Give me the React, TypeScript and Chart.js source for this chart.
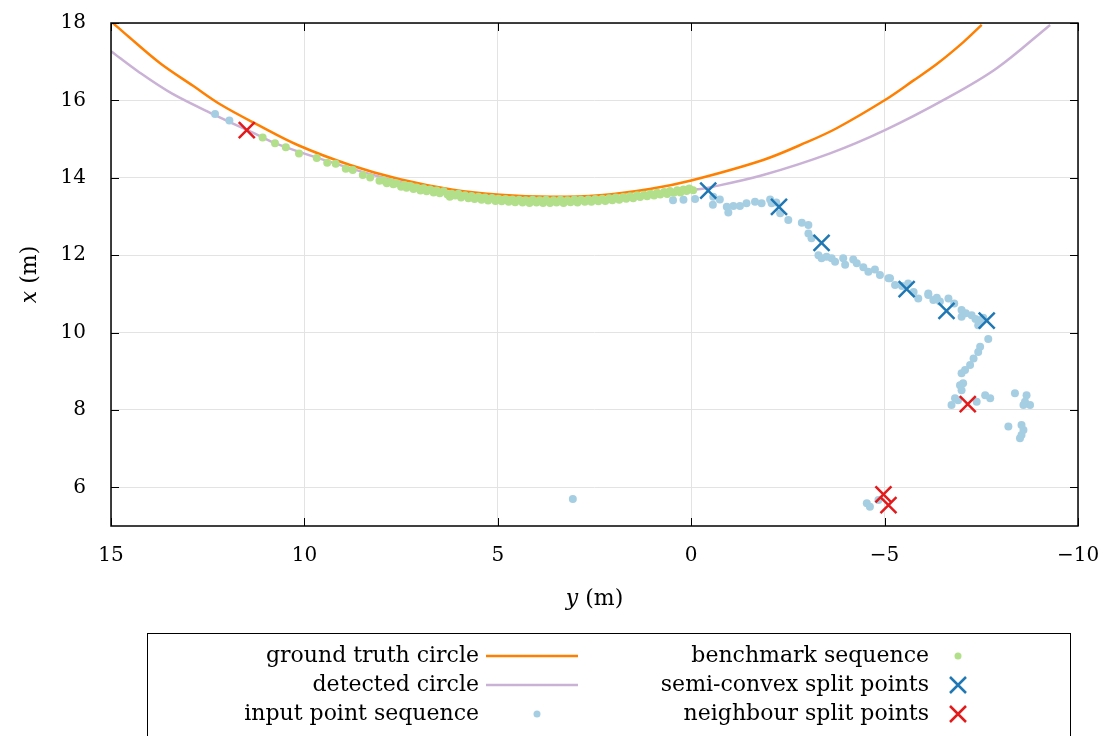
import React, { useEffect, useRef } from 'react';
import { Chart, registerables } from 'chart.js';

Chart.register(...registerables);

// Each pair is [y (m), x (m)]: chart horizontal axis is y (reversed), vertical axis is x.
const groundTruthCircle: [number, number][] = [
  [14.95, 18.0], [14.55, 17.65], [13.73, 16.96], [12.87, 16.37], [12.18, 15.9],
  [11.19, 15.36], [10.16, 14.84], [8.82, 14.33], [7.53, 13.96], [6.16, 13.69],
  [4.94, 13.56], [3.65, 13.51], [2.36, 13.55], [1.07, 13.71], [0.0, 13.93],
  [-1.86, 14.46], [-2.99, 14.92], [-3.76, 15.28], [-5.01, 16.01], [-5.74, 16.51],
  [-6.35, 16.94], [-7.03, 17.5], [-7.51, 17.95],
];

const detectedCircle: [number, number][] = [
  [15.0, 17.27], [14.29, 16.74], [13.43, 16.18], [12.31, 15.62], [11.2, 15.1],
  [10.8, 14.91], [9.68, 14.52], [8.22, 14.07], [7.0, 13.77], [6.0, 13.6],
  [5.0, 13.49], [4.0, 13.43], [3.0, 13.42], [2.0, 13.46], [1.0, 13.55],
  [0.0, 13.68], [-0.57, 13.77], [-1.86, 14.07], [-3.59, 14.63], [-5.01, 15.23],
  [-6.6, 16.05], [-7.9, 16.83], [-9.28, 17.95],
];

const inputPoints: [number, number][] = [
  [12.31, 15.65], [11.94, 15.48],
  [0.47, 13.42], [0.2, 13.43], [-0.1, 13.45], [-0.56, 13.3], [-0.57, 13.51], [-0.74, 13.44],
  [-0.92, 13.25], [-0.96, 13.1], [-1.09, 13.27], [-1.26, 13.27], [-1.43, 13.34], [-1.65, 13.38],
  [-1.82, 13.34], [-2.04, 13.44], [-2.08, 13.34], [-2.2, 13.36], [-2.3, 13.08], [-2.51, 12.91],
  [-2.86, 12.84], [-3.03, 12.78], [-3.03, 12.56], [-3.11, 12.44], [-3.29, 12.0], [-3.37, 11.92],
  [-3.5, 11.96], [-3.63, 11.92], [-3.72, 11.83], [-3.93, 11.92], [-3.98, 11.75], [-4.19, 11.89],
  [-4.28, 11.79], [-4.45, 11.69], [-4.58, 11.57], [-4.75, 11.63], [-4.88, 11.49], [-5.1, 11.4],
  [-5.14, 11.4], [-5.27, 11.23], [-5.45, 11.2], [-5.61, 11.27], [-5.75, 11.05], [-5.87, 10.88],
  [-6.13, 10.97], [-6.13, 11.01], [-6.26, 10.84], [-6.35, 10.9], [-6.43, 10.8], [-6.65, 10.88],
  [-6.8, 10.75], [-6.99, 10.58], [-6.99, 10.41], [-7.1, 10.5], [-7.25, 10.45], [-7.35, 10.35],
  [-7.47, 10.32], [-7.42, 10.19], [-7.55, 10.38], [-7.68, 9.83], [-7.47, 9.63], [-7.42, 9.5],
  [-7.3, 9.33], [-7.21, 9.16], [-7.08, 9.03], [-6.99, 8.95], [-7.03, 8.69], [-6.95, 8.64],
  [-6.99, 8.51], [-6.82, 8.3], [-6.9, 8.25], [-6.73, 8.13], [-7.38, 8.21], [-7.6, 8.38],
  [-7.73, 8.3], [-8.37, 8.43], [-8.67, 8.38], [-8.63, 8.21], [-8.76, 8.13], [-8.59, 8.13],
  [-8.2, 7.57], [-8.54, 7.61], [-8.59, 7.48], [-8.54, 7.35], [-8.5, 7.27],
  [-4.62, 5.5], [-4.84, 5.67], [-4.54, 5.59],
  [3.06, 5.7],
];

const benchmarkPoints: [number, number][] = [
  [11.08, 15.04], [10.76, 14.89], [10.48, 14.79], [10.14, 14.63], [9.68, 14.51], [9.41, 14.39],
  [9.19, 14.36], [8.93, 14.23], [8.75, 14.2], [8.49, 14.07], [8.3, 14.01], [8.06, 13.92],
  [7.95, 13.93], [7.87, 13.86], [7.78, 13.89], [7.7, 13.83], [7.62, 13.86], [7.5, 13.77],
  [7.41, 13.81], [7.36, 13.74], [7.26, 13.79], [7.18, 13.71], [7.1, 13.75], [7.0, 13.67],
  [6.92, 13.73], [6.84, 13.65], [6.75, 13.7], [6.66, 13.62], [6.58, 13.67], [6.5, 13.6],
  [6.4, 13.65], [6.3, 13.57], [6.24, 13.51], [6.19, 13.59], [6.1, 13.54], [6.02, 13.59],
  [5.95, 13.49], [5.85, 13.55], [5.76, 13.47], [5.68, 13.53], [5.6, 13.45], [5.5, 13.51],
  [5.42, 13.43], [5.33, 13.49], [5.25, 13.41], [5.15, 13.48], [5.06, 13.4], [4.98, 13.46],
  [4.9, 13.39], [4.8, 13.45], [4.72, 13.38], [4.62, 13.44], [4.55, 13.37], [4.45, 13.43],
  [4.36, 13.36], [4.28, 13.42], [4.18, 13.35], [4.1, 13.43], [4.0, 13.36], [3.92, 13.42],
  [3.83, 13.35], [3.75, 13.43], [3.65, 13.35], [3.56, 13.42], [3.48, 13.36], [3.38, 13.43],
  [3.3, 13.35], [3.2, 13.42], [3.12, 13.37], [3.02, 13.44], [2.94, 13.36], [2.85, 13.43],
  [2.75, 13.38], [2.66, 13.44], [2.58, 13.38], [2.48, 13.45], [2.4, 13.39], [2.3, 13.46],
  [2.22, 13.4], [2.12, 13.47], [2.04, 13.42], [1.95, 13.49], [1.86, 13.43], [1.76, 13.5],
  [1.68, 13.46], [1.58, 13.52], [1.5, 13.47], [1.4, 13.55], [1.32, 13.5], [1.22, 13.56],
  [1.14, 13.52], [1.05, 13.59], [0.96, 13.54], [0.88, 13.61], [0.8, 13.57], [0.7, 13.63],
  [0.62, 13.58], [0.55, 13.66], [0.45, 13.61], [0.36, 13.68], [0.28, 13.62], [0.2, 13.7],
  [0.12, 13.66], [0.05, 13.72], [-0.05, 13.68],
];

const semiConvexSplitPoints: [number, number][] = [
  [-0.44, 13.67], [-2.27, 13.25], [-3.37, 12.32], [-5.57, 11.12], [-6.6, 10.56], [-7.64, 10.31],
];

const neighbourSplitPoints: [number, number][] = [
  [11.49, 15.23], [-7.15, 8.15], [-4.97, 5.82], [-5.1, 5.54],
];

const xTickValues = [15, 10, 5, 0, -5, -10];
const yTickValues = [6, 8, 10, 12, 14, 16, 18];

const seriesLabels = [
  'ground truth circle',
  'detected circle',
  'input point sequence',
  'benchmark sequence',
  'semi-convex split points',
  'neighbour split points',
];

const ORANGE = '#ff7f00';
const PURPLE = '#cab2d6';
const LIGHTBLUE = '#a6cee3';
const GREEN = '#b2df8a';
const BLUE = '#1f78b4';
const RED = '#e31a1c';

const FONT = '"DejaVu Serif", serif';

const toXY = (pts: [number, number][]) => pts.map(([y, x]) => ({ x: y, y: x }));

function drawTitle(ctx: CanvasRenderingContext2D, italicPart: string, rest: string, cx: number, cy: number) {
  ctx.textBaseline = 'middle';
  ctx.textAlign = 'left';
  ctx.font = `italic 22px ${FONT}`;
  const w1 = ctx.measureText(italicPart).width;
  ctx.font = `22px ${FONT}`;
  const w2 = ctx.measureText(rest).width;
  const start = cx - (w1 + w2) / 2;
  ctx.font = `italic 22px ${FONT}`;
  ctx.fillText(italicPart, start, cy);
  ctx.font = `22px ${FONT}`;
  ctx.fillText(rest, start + w1, cy);
}

function drawCross(ctx: CanvasRenderingContext2D, x: number, y: number, color: string) {
  ctx.save();
  ctx.strokeStyle = color;
  ctx.lineWidth = 2.5;
  ctx.beginPath();
  ctx.moveTo(x - 8, y - 8);
  ctx.lineTo(x + 8, y + 8);
  ctx.moveTo(x + 8, y - 8);
  ctx.lineTo(x - 8, y + 8);
  ctx.stroke();
  ctx.restore();
}

const zeroPadding = (scale: any) => {
  scale.paddingTop = 0;
  scale.paddingBottom = 0;
  scale.paddingLeft = 0;
  scale.paddingRight = 0;
};

const overlayPlugin = {
  id: 'overlay',
  afterDraw(chart: any) {
    const { ctx, chartArea: a, scales } = chart;
    const xs = scales.x;
    const ys = scales.y;
    ctx.save();
    // inward ticks on all four sides
    ctx.strokeStyle = '#000';
    ctx.lineWidth = 1;
    ctx.beginPath();
    for (const v of xTickValues) {
      const p = Math.round(xs.getPixelForValue(v)) + 0.5;
      ctx.moveTo(p, a.bottom);
      ctx.lineTo(p, a.bottom - 8);
      ctx.moveTo(p, a.top);
      ctx.lineTo(p, a.top + 8);
    }
    for (const v of yTickValues) {
      const p = Math.round(ys.getPixelForValue(v)) + 0.5;
      ctx.moveTo(a.left, p);
      ctx.lineTo(a.left + 8, p);
      ctx.moveTo(a.right, p);
      ctx.lineTo(a.right - 8, p);
    }
    ctx.stroke();
    ctx.lineWidth = 1.5;
    ctx.strokeRect(a.left, a.top, a.right - a.left, a.bottom - a.top);

    // axis titles
    ctx.fillStyle = '#000';
    drawTitle(ctx, 'y', ' (m)', (a.left + a.right) / 2, 599);
    ctx.save();
    ctx.translate(30, (a.top + a.bottom) / 2);
    ctx.rotate(-Math.PI / 2);
    drawTitle(ctx, 'x', ' (m)', 0, 0);
    ctx.restore();

    // legend box
    ctx.lineWidth = 1;
    ctx.strokeStyle = '#000';
    ctx.strokeRect(147.5, 633.5, 923, 200);
    const rows = [656, 685, 714];
    ctx.font = `22px ${FONT}`;
    ctx.textAlign = 'right';
    ctx.textBaseline = 'middle';
    ctx.fillStyle = '#000';
    for (let i = 0; i < seriesLabels.length; i++) {
      const col = i < 3 ? 0 : 1;
      const row = rows[i % 3];
      const textRight = col === 0 ? 479 : 929;
      ctx.fillText(seriesLabels[i], textRight, row);
    }
    // samples
    ctx.lineWidth = 2.5;
    ctx.strokeStyle = ORANGE;
    ctx.beginPath(); ctx.moveTo(486, rows[0]); ctx.lineTo(578, rows[0]); ctx.stroke();
    ctx.strokeStyle = PURPLE;
    ctx.beginPath(); ctx.moveTo(486, rows[1]); ctx.lineTo(578, rows[1]); ctx.stroke();
    ctx.fillStyle = LIGHTBLUE;
    ctx.beginPath(); ctx.arc(537, rows[2], 3.5, 0, Math.PI * 2); ctx.fill();
    ctx.fillStyle = GREEN;
    ctx.beginPath(); ctx.arc(958, rows[0], 3.5, 0, Math.PI * 2); ctx.fill();
    drawCross(ctx, 958, rows[1], BLUE);
    drawCross(ctx, 958, rows[2], RED);
    ctx.restore();
  },
};

export default function App() {
  const canvasRef = useRef<HTMLCanvasElement | null>(null);

  useEffect(() => {
    const canvas = canvasRef.current;
    if (!canvas) return;
    const chart = new Chart(canvas, {
      type: 'scatter',
      data: {
        datasets: [
          {
            label: seriesLabels[0],
            data: toXY(groundTruthCircle),
            showLine: true,
            borderColor: ORANGE,
            borderWidth: 2.5,
            pointRadius: 0,
            tension: 0.35,
            order: 6,
          },
          {
            label: seriesLabels[1],
            data: toXY(detectedCircle),
            showLine: true,
            borderColor: PURPLE,
            borderWidth: 2.5,
            pointRadius: 0,
            tension: 0.35,
            order: 5,
          },
          {
            label: seriesLabels[2],
            data: toXY(inputPoints),
            backgroundColor: LIGHTBLUE,
            borderWidth: 0,
            pointRadius: 4,
            order: 4,
          },
          {
            label: seriesLabels[3],
            data: toXY(benchmarkPoints),
            backgroundColor: GREEN,
            borderWidth: 0,
            pointRadius: 4,
            order: 3,
          },
          {
            label: seriesLabels[4],
            data: toXY(semiConvexSplitPoints),
            pointStyle: 'crossRot',
            borderColor: BLUE,
            borderWidth: 2.5,
            pointRadius: 11.3,
            order: 2,
          },
          {
            label: seriesLabels[5],
            data: toXY(neighbourSplitPoints),
            pointStyle: 'crossRot',
            borderColor: RED,
            borderWidth: 2.5,
            pointRadius: 11.3,
            order: 1,
          },
        ],
      } as any,
      options: {
        animation: false,
        responsive: true,
        maintainAspectRatio: false,
        events: [],
        layout: { padding: { top: 23, right: 30, bottom: 110, left: 0 } },
        plugins: {
          legend: { display: false },
          tooltip: { enabled: false },
        },
        scales: {
          x: {
            type: 'linear',
            reverse: true,
            min: -10,
            max: 15,
            afterBuildTicks: (scale: any) => {
              scale.ticks = xTickValues.map((v) => ({ value: v }));
            },
            afterFit: (scale: any) => {
              scale.height = 100;
              zeroPadding(scale);
            },
            grid: { color: '#e3e3e3', lineWidth: 1, drawTicks: false },
            border: { display: false },
            ticks: {
              color: '#000',
              font: { family: FONT, size: 20 },
              padding: 18,
              maxRotation: 0,
              autoSkip: false,
              callback: (v: any) => (Number(v) < 0 ? '\u2212' + Math.abs(Number(v)) : String(v)),
            },
          },
          y: {
            type: 'linear',
            min: 5,
            max: 18,
            afterBuildTicks: (scale: any) => {
              scale.ticks = yTickValues.map((v) => ({ value: v }));
            },
            afterFit: (scale: any) => {
              scale.width = 111;
              zeroPadding(scale);
            },
            grid: { color: '#e3e3e3', lineWidth: 1, drawTicks: false },
            border: { display: false },
            ticks: {
              color: '#000',
              font: { family: FONT, size: 20 },
              padding: 25,
              autoSkip: false,
            },
          },
        },
      } as any,
      plugins: [overlayPlugin],
    });
    return () => chart.destroy();
  }, []);

  return (
    <div style={{ position: 'fixed', left: 0, top: 0, width: 1108, height: 736, background: '#fff' }}>
      <canvas ref={canvasRef} />
    </div>
  );
}
